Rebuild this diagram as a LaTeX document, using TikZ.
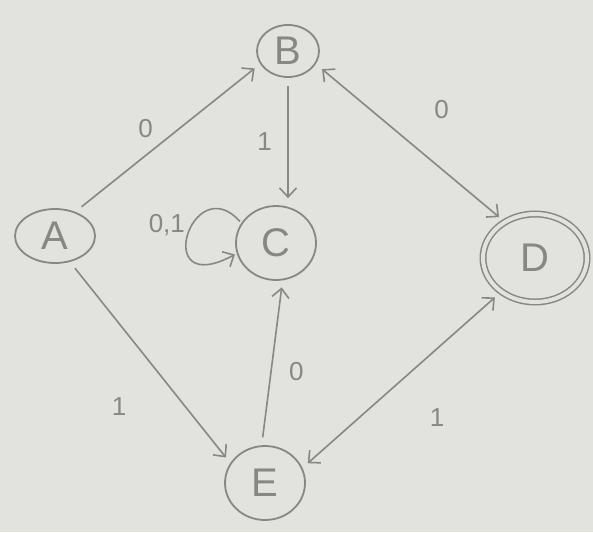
\documentclass[tikz,border=0pt]{standalone}
\usepackage{fontspec}
\setmainfont{Liberation Sans}
\usetikzlibrary{arrows.meta,shapes.geometric}
\definecolor{paper}{RGB}{226,227,222}
\definecolor{pencil}{RGB}{135,135,132}
\tikzset{
  state/.style={draw=pencil,line width=1.8pt,ellipse,inner sep=0pt,text=pencil,font=\fontsize{40}{42}\selectfont},
  accepting/.style={double=paper,double distance=4pt,line width=1.5pt},
  barb/.tip={Straight Barb[length=9pt,width=17pt]},
  trans/.style={draw=pencil,line width=1.6pt,-barb,shorten >=7pt,shorten <=8pt},
  lbl/.style={text=pencil,font=\fontsize{26}{28}\selectfont}
}
\begin{document}
\begin{tikzpicture}[x=1pt,y=-1pt]
\path[use as bounding box,fill=paper] (0,0) rectangle (593,532);
% states
\node[state,minimum width=62pt,minimum height=52pt] (B) at (288,51) {B};
\node[state,minimum width=80pt,minimum height=54pt] (A) at (55,236) {A};
\node[state,minimum width=80pt,minimum height=74pt] (C) at (276,243) {C};
\node[state,accepting,minimum width=104pt,minimum height=88pt] (D) at (535,258) {D};
\node[state,minimum width=80pt,minimum height=74pt] (E) at (265,483) {E};
% transitions
\draw[trans] (A.50) -- (B.205) node[lbl,pos=.38,above=14pt] {0};
\draw[trans] (B.south) -- (B.south |- C.north) node[lbl,pos=.5,left=12pt] {1};
\draw[trans,barb-barb] (B.-25) -- (D.130) node[lbl,pos=.5,above right=20pt] {0};
\draw[trans] (A.-60) -- (E.150) node[lbl,pos=.72,left=55pt] {1};
\draw[trans] (E.95) -- (C.-80) node[lbl,pos=.45,right=14pt] {0};
\draw[trans,barb-barb] (D.-135) -- (E.22) node[lbl,pos=.5,below right=24pt] {1};
\draw[trans,shorten <=2pt,shorten >=2pt] (C.150) .. controls (192,168) and (150,300) .. (C.195) node[lbl,pos=.42,left=3pt] {0,1};
\end{tikzpicture}
\end{document}
